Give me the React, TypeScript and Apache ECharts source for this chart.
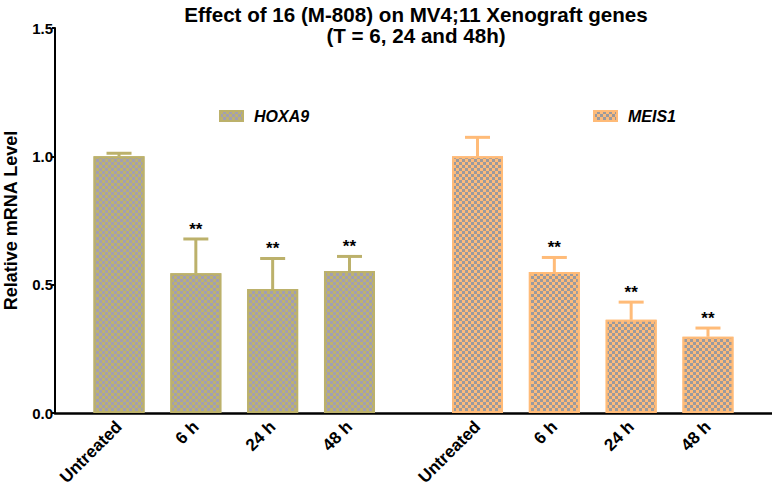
import React, { useEffect, useRef } from "react";
import * as echarts from "echarts";

// ---- data ----
const categories = ["Untreated", "6 h", "24 h", "48 h"];
const genes = ["HOXA9", "MEIS1"];
const hoxa9Mean = [1.0, 0.544, 0.483, 0.553];
const hoxa9Upper = [1.012, 0.678, 0.602, 0.61];
const meis1Mean = [1.0, 0.549, 0.363, 0.297];
const meis1Upper = [1.074, 0.606, 0.432, 0.331];
const stars = ["", "**", "**", "**"];
const yTicks = [0, 0.5, 1.0, 1.5];

// ---- layout of the category slots (fine grid so the gap between groups fits) ----
const SLOTS = 28;
const STEP = 3;
const GROUP_START = [2, 16];

const FONT = "'Liberation Sans', Arial, sans-serif";

const COLORS = [
  { fill: "#bdb26f", border: "#bcb16b", dark: "#a19eb3" },
  { fill: "#fdbb7b", border: "#ffbb78", dark: "#9b9a9d" },
];

export default function App() {
  const ref = useRef<HTMLDivElement>(null);

  useEffect(() => {
    if (!ref.current) return;
    const chart = echarts.init(ref.current, undefined, { renderer: "svg" });

    const slotLabels: string[] = new Array(SLOTS).fill("");
    GROUP_START.forEach((s) =>
      categories.forEach((c, i) => {
        slotLabels[s + i * STEP] = c;
      })
    );

    const means = [hoxa9Mean, meis1Mean];
    const uppers = [hoxa9Upper, meis1Upper];

    const barSeries = genes.map((g, gi) => {
      const data: (number | null)[] = new Array(SLOTS).fill(null);
      means[gi].forEach((v, i) => {
        data[GROUP_START[gi] + i * STEP] = v;
      });
      return {
        name: g,
        type: "bar",
        barWidth: 51,
        barGap: "-100%",
        data,
        itemStyle: {
          color: COLORS[gi].fill,
          borderColor: COLORS[gi].border,
          borderWidth: 2,
          decal: {
            symbol: "rect",
            symbolSize: 1,
            color: COLORS[gi].dark,
            dashArrayX: [
              [3, 3],
              [0, 3, 3, 0],
            ],
            dashArrayY: [3, 0],
          },
        },
        emphasis: { disabled: true },
        z: 2,
      };
    });

    const errSeries = genes.map((g, gi) => {
      const data = means[gi].map((m, i) => [GROUP_START[gi] + i * STEP, m, uppers[gi][i]]);
      return {
        name: g + " err",
        type: "custom",
        data,
        z: 3,
        renderItem: (params: any, api: any) => {
          const x = api.value(0);
          const m = api.value(1);
          const u = api.value(2);
          const p0 = api.coord([x, m]);
          const p1 = api.coord([x, u]);
          const half = 12.5;
          const color = COLORS[gi].border;
          const children: any[] = [
            {
              type: "line",
              shape: { x1: p0[0], y1: p0[1], x2: p1[0], y2: p1[1] },
              style: { stroke: color, lineWidth: 3 },
            },
            {
              type: "line",
              shape: { x1: p1[0] - half, y1: p1[1], x2: p1[0] + half, y2: p1[1] },
              style: { stroke: color, lineWidth: 3 },
            },
          ];
          const s = stars[params.dataIndex];
          if (s) {
            children.push({
              type: "text",
              x: p1[0],
              y: p1[1] - 1,
              style: {
                text: s,
                fill: "#000",
                font: `bold 17px ${FONT}`,
                textAlign: "center",
                textVerticalAlign: "bottom",
              },
            });
          }
          return { type: "group", children };
        },
      };
    });

    const legendText = {
      fontFamily: FONT,
      fontWeight: "bold",
      fontStyle: "italic",
      fontSize: 16,
      color: "#000",
      padding: [0, 0, 0, 6],
    };

    chart.setOption({
      animation: false,
      textStyle: { fontFamily: FONT },
      title: {
        text: "Effect of 16 (M-808) on MV4;11 Xenograft genes\n(T = 6, 24 and 48h)",
        left: 411,
        textAlign: "center",
        top: -1,
        textStyle: {
          fontSize: 20.6,
          fontWeight: "bold",
          color: "#000",
          lineHeight: 21,
          fontFamily: FONT,
        },
      },
      legend: [
        {
          data: [genes[0]],
          left: 214,
          top: 103,
          itemWidth: 23,
          itemHeight: 10,
          icon: "rect",
          textStyle: legendText,
          selectedMode: false,
        },
        {
          data: [genes[1]],
          left: 588,
          top: 103,
          itemWidth: 23,
          itemHeight: 10,
          icon: "rect",
          textStyle: legendText,
          selectedMode: false,
        },
      ],
      grid: {
        left: 55,
        right: 0,
        top: 28,
        bottom: 85,
        containLabel: false,
        outerBoundsMode: "none",
      },
      xAxis: {
        type: "category",
        data: slotLabels,
        axisLine: { lineStyle: { color: "#000", width: 2.5 } },
        axisTick: {
          alignWithLabel: true,
          interval: (i: number, v: string) => v !== "",
          length: 7,
          lineStyle: { color: "#000", width: 2 },
        },
        axisLabel: {
          interval: (i: number, v: string) => v !== "",
          rotate: 45,
          fontSize: 17,
          fontWeight: "bold",
          color: "#000",
          margin: 11,
        },
      },
      yAxis: {
        type: "value",
        min: yTicks[0],
        max: yTicks[yTicks.length - 1],
        interval: 0.5,
        name: "Relative mRNA Level",
        nameLocation: "middle",
        nameGap: 35,
        nameTextStyle: { fontSize: 18, fontWeight: "bold", color: "#000" },
        axisLine: { show: true, lineStyle: { color: "#000", width: 2 } },
        axisTick: { show: true, length: 3, lineStyle: { color: "#000", width: 2 } },
        splitLine: { show: false },
        axisLabel: {
          fontSize: 15,
          fontWeight: "bold",
          color: "#000",
          margin: 2,
          formatter: (v: number) => v.toFixed(1),
        },
      },
      series: [...barSeries, ...errSeries],
    });

    return () => chart.dispose();
  }, []);

  return <div ref={ref} style={{ width: 772, height: 498, position: "absolute", left: 0, top: 0 }} />;
}
